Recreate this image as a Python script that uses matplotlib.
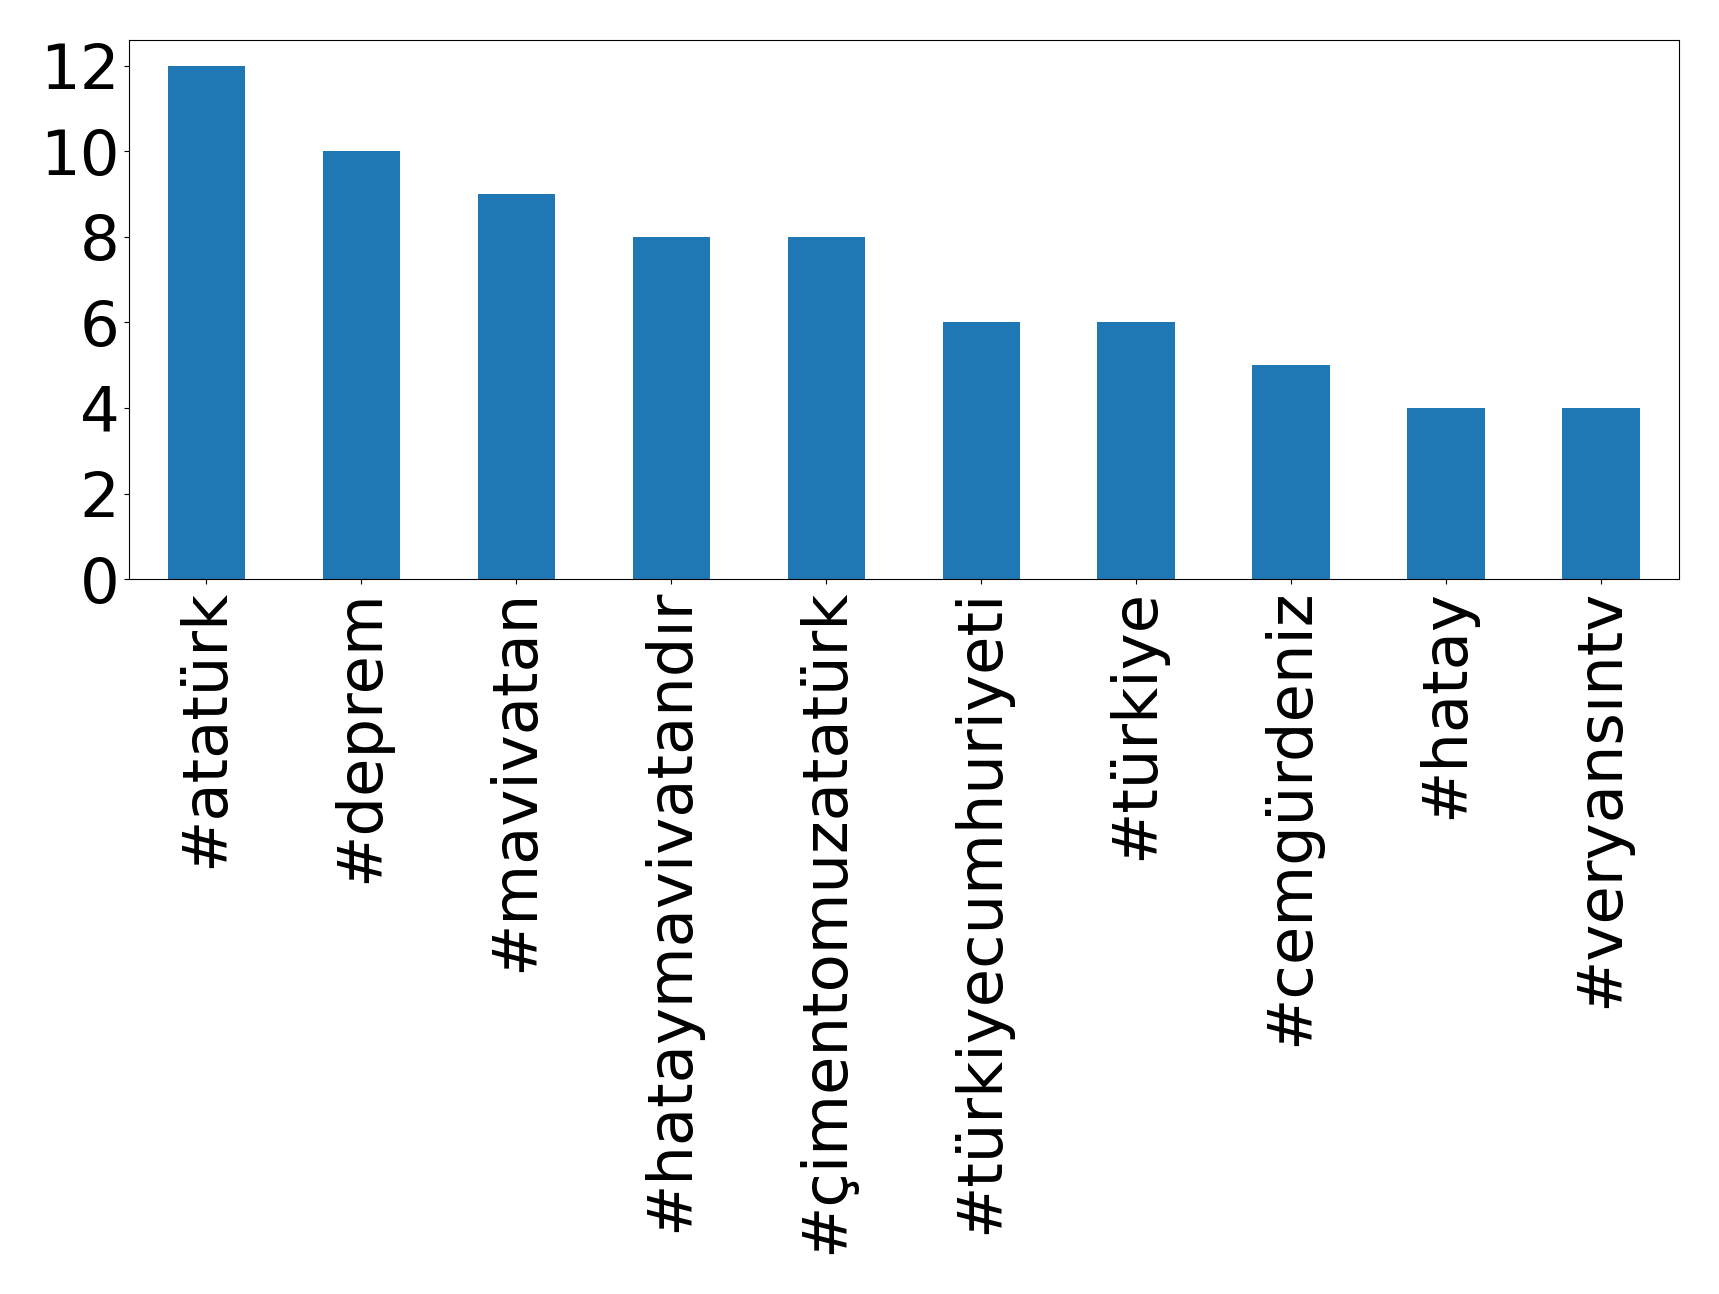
import matplotlib
matplotlib.use("Agg")
import matplotlib.pyplot as plt

# hashtag sayilari
etiketler = ["#atatürk", "#deprem", "#mavivatan", "#hataymavivatandır",
             "#çimentomuzatatürk", "#türkiyecumhuriyeti", "#türkiye",
             "#cemgürdeniz", "#hatay", "#veryansıntv"]
sayilar = [12, 10, 9, 8, 8, 6, 6, 5, 4, 4]

fig = plt.figure(figsize=(17.19, 12.94), dpi=100)
ax = fig.add_axes([0.075, 0.5525, 0.9015, 0.4165])

x = range(len(etiketler))
ax.bar(x, sayilar, width=0.5, color="#1f77b4")
ax.set_xlim(-0.5, len(etiketler) - 0.5)
ax.set_ylim(0, 12.6)
ax.set_xticks(list(x))
ax.set_xticklabels(etiketler, rotation=90)
ax.set_yticks([0, 2, 4, 6, 8, 10, 12])
ax.tick_params(labelsize=45)

plt.savefig("out.png", dpi=100)
plt.close()
